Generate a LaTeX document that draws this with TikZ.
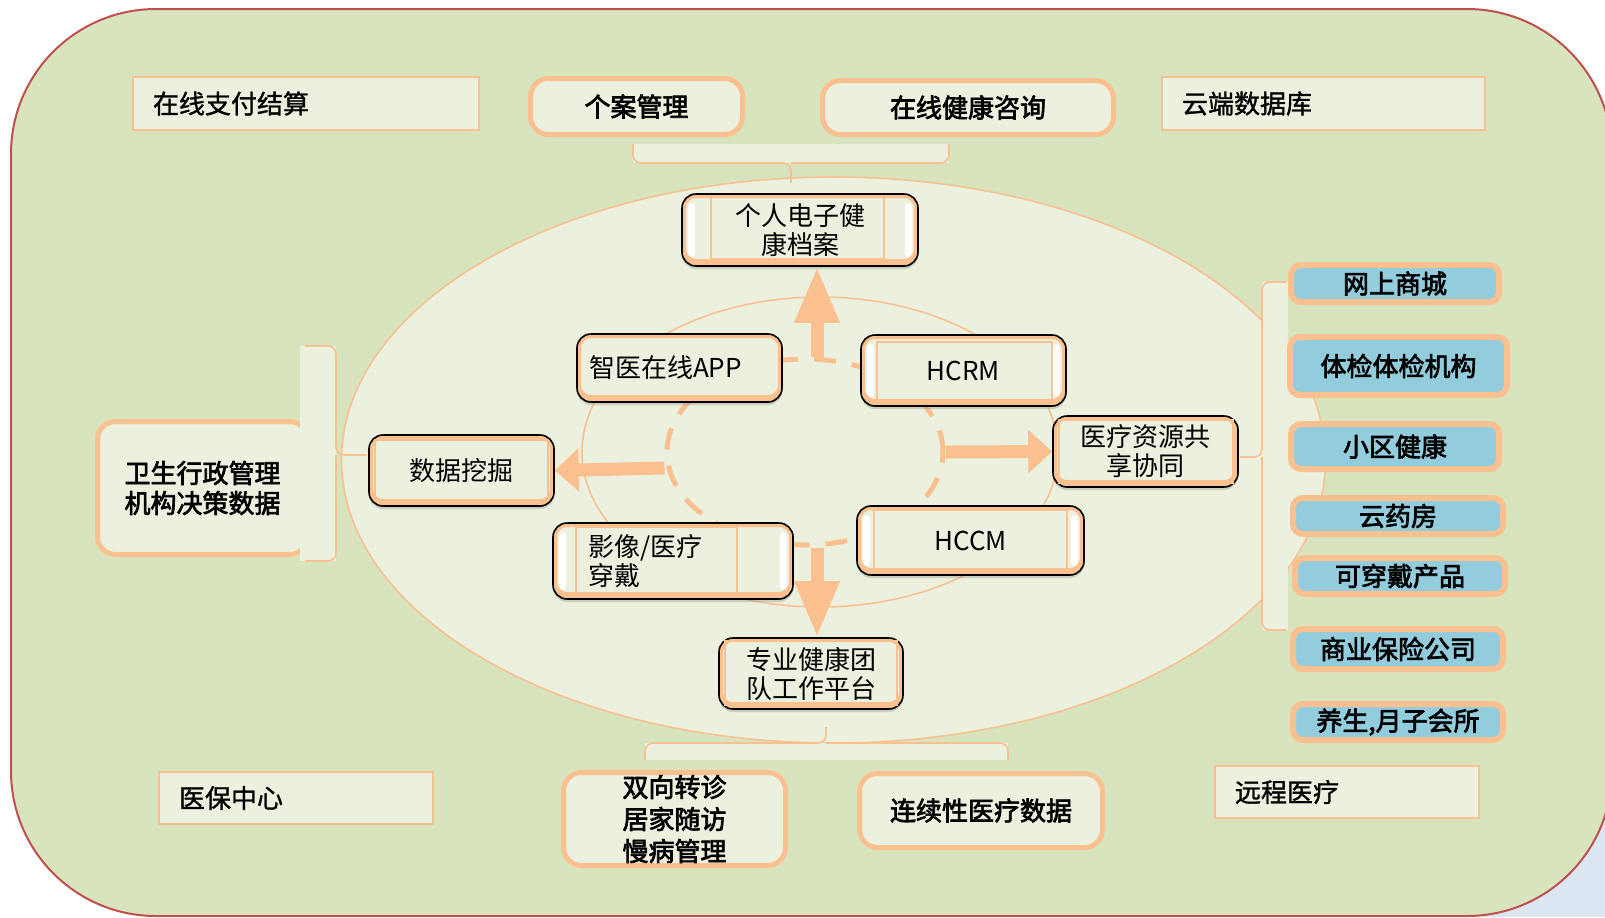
\documentclass[tikz,border=0pt]{standalone}
\usepackage{fontspec}
\newfontfamily\cjk{Noto Sans CJK SC}
\newfontfamily\cjkmid{Noto Sans CJK SC}[FakeBold=1.2]
\newfontfamily\cjkheavy{Noto Sans CJK SC}[FakeBold=2.6]
\usetikzlibrary{arrows.meta,calc,shapes.geometric,shadows}
\definecolor{panelgreen}{HTML}{D7E4BD}
\definecolor{framered}{HTML}{C0504D}
\definecolor{boxfill}{HTML}{EBF1DE}
\definecolor{edgeorange}{HTML}{FAC090}
\definecolor{tagblue}{HTML}{93CDDD}
\definecolor{cornerblue}{HTML}{DCE6F2}

\begin{document}
\begin{tikzpicture}[x=0.5pt, y=-0.5pt,
    every node/.style={font=\cjk\fontsize{13}{15}\selectfont, text=black},
    plainbox/.style={draw=edgeorange, line width=1pt, fill=boxfill, minimum height=26.5pt, inner xsep=10pt, align=left,
        font=\cjkmid\fontsize{13}{15}\selectfont},
    outerbox/.style={draw=edgeorange, line width=2.5pt, fill=boxfill, rounded corners=9pt, align=center,
        font=\cjkheavy\fontsize{13}{15}\selectfont},
    corebox/.style={draw=black, line width=0.8pt, fill=boxfill, rounded corners=7pt, align=center, inner ysep=2pt,
        font=\cjk\fontsize{13}{14.5}\selectfont,
        drop shadow={opacity=0.3, shadow xshift=0pt, shadow yshift=-1.5pt},
        path picture={\draw[edgeorange, line width=4pt, rounded corners=7pt]
            ([yshift=1.5pt]path picture bounding box.south west) rectangle (path picture bounding box.north east);}},
    tagbox/.style={draw=edgeorange, line width=3pt, fill=tagblue, rounded corners=5pt, inner sep=1pt,
        font=\cjkheavy\fontsize{13}{15}\selectfont},
    innerline/.style={draw=edgeorange, line width=0.8pt},
    flowarrow/.style={draw=edgeorange, line width=6.5pt, -{Triangle[length=#1, width=21pt]}},
    flowarrow/.default=12pt,
    bracket/.style={draw=edgeorange, line width=0.8pt, rounded corners=4pt}
]
\useasboundingbox (0,0) rectangle (1605,917);

% background panel
\fill[cornerblue] (1440,760) rectangle (1605,917);
\draw[draw=framered, fill=panelgreen, line width=1pt, rounded corners=72.5pt] (11,9) rectangle (1612,916);

% top row
\node[plainbox, text width=153pt] (pay) at (306,103.5) {在线支付结算};
\node[outerbox, minimum width=106pt, minimum height=28pt] (case) at (636.5,106.5) {个案管理};
\node[outerbox, minimum width=145.5pt, minimum height=27pt] (consult) at (968,107.5) {在线健康咨询};
\node[plainbox, text width=141.5pt] (cloud) at (1323.5,103.5) {云端数据库};

% ellipses
\draw[edgeorange, fill=boxfill, line width=0.8pt] (833.5,460) ellipse [x radius=246pt, y radius=141.5pt];
\draw[edgeorange, line width=0.8pt] (820,452) ellipse [x radius=119pt, y radius=77.5pt];
\node[ellipse, draw=edgeorange, line width=2.5pt, dash pattern=on 11pt off 8pt,
    minimum width=138pt, minimum height=93pt, inner sep=0pt] (hub) at (805,452) {};

% left box
\node[outerbox, minimum width=105pt, minimum height=66.5pt] (admin) at (202.5,488) {卫生行政管理\\机构决策数据};

% brackets
\fill[boxfill] (633,144) rectangle (949,163);
\draw[bracket] (633,144) |- (791,163) -- (791,183);
\draw[bracket] (949,144) |- (791,163);
\fill[boxfill] (645,743) rectangle (1008,760);
\draw[bracket] (645,760) |- (826,743) -- (826,727);
\draw[bracket] (1008,760) |- (826,743);
\fill[boxfill] (300,346) rectangle (336,561);
\draw[bracket] (305,346) -| (336,455) -- (366,455);
\draw[bracket] (305,561) -| (336,455);
\fill[boxfill] (1262,282) rectangle (1288,630);
\draw[bracket] (1286,282) -| (1262,457) -- (1240,457);
\draw[bracket] (1286,630) -| (1262,457);

% core nodes
\node[corebox, minimum width=118pt, minimum height=36pt] (ehr) at (800,230) {个人电子健\\康档案};
\node[corebox, align=left, text width=90.5pt, inner xsep=6pt, minimum height=34pt] (app) at (679.5,368) {智医在线APP};
\node[corebox, minimum width=102.5pt, minimum height=35.5pt] (hcrm) at (963.5,370.5) {HCRM};
\node[corebox, minimum width=92.5pt, minimum height=35.5pt] (share) at (1145.5,451.5) {医疗资源共\\享协同};
\node[corebox, minimum width=92.5pt, minimum height=35.5pt] (mine) at (461.5,470.5) {数据挖掘};
\node[corebox, align=left, text width=85pt, inner xsep=17.5pt, minimum height=38pt] (imaging) at (673,561) {影像/医疗\\穿戴};
\node[corebox, minimum width=113.5pt, minimum height=34.5pt] (hccm) at (970.5,540.5) {HCCM};
\node[corebox, minimum width=92pt, minimum height=35.5pt] (team) at (811,673.5) {专业健康团\\队工作平台};

\foreach \n/\l/\t/\r/\b in {ehr/30/4/35/8, hcrm/17/8/15/6, imaging/24/5/57/5, hccm/18/5/18/6,
    team/7/4/7/5, share/7/5/6/5, mine/7/6/7/7}
  \draw[innerline] ($(\n.north west)+(\l,\t)$) rectangle ($(\n.south east)+(-\r,-\b)$);
\foreach \n in {ehr,hcrm,imaging,hccm} {
  \fill[white, rounded corners=2pt] ($(\n.north west)+(7,10)$) rectangle ($(\n.south west)+(14,-10)$);
  \fill[white, rounded corners=2pt] ($(\n.north east)+(-14,10)$) rectangle ($(\n.south east)+(-7,-10)$);
}

% arrows out of the hub
\draw[flowarrow=28pt] ([xshift=6pt]hub.north) -- ([xshift=8.5pt]ehr.south);
\draw[flowarrow=28pt] ([xshift=6pt]hub.south) -- ([xshift=3pt]team.north);
\draw[flowarrow] ([yshift=-8pt]hub.west) -- (mine.east);
\draw[flowarrow] (hub.east) -- (share.west);

% right column
\node[tagbox, minimum width=104pt, minimum height=18.5pt] (mall) at (1395,283.5) {网上商城};
\node[tagbox, minimum width=108.5pt, minimum height=29pt] (exam) at (1398.5,366) {体检体检机构};
\node[tagbox, minimum width=104pt, minimum height=22.5pt] (community) at (1395,446.5) {小区健康};
\node[tagbox, minimum width=105pt, minimum height=18pt] (pharmacy) at (1398,516) {云药房};
\node[tagbox, minimum width=105pt, minimum height=18pt] (wearable) at (1400,576) {可穿戴产品};
\node[tagbox, minimum width=105pt, minimum height=20pt] (insure) at (1398,649) {商业保险公司};
\node[tagbox, minimum width=105pt, minimum height=18pt] (club) at (1398,722) {养生,月子会所};

% bottom row
\node[plainbox, text width=117pt, minimum height=26pt] (medins) at (296,798) {医保中心};
\node[outerbox, minimum width=111pt, minimum height=46.5pt, inner ysep=0pt,
    font=\cjkheavy\fontsize{13}{16}\selectfont] (referral) at (674.5,819) {双向转诊\\居家随访\\慢病管理};
\node[outerbox, minimum width=121.5pt, minimum height=37pt] (contdata) at (981,810.5) {连续性医疗数据};
\node[plainbox, text width=112pt, minimum height=26pt] (remote) at (1347,792) {远程医疗};
\end{tikzpicture}
\end{document}
